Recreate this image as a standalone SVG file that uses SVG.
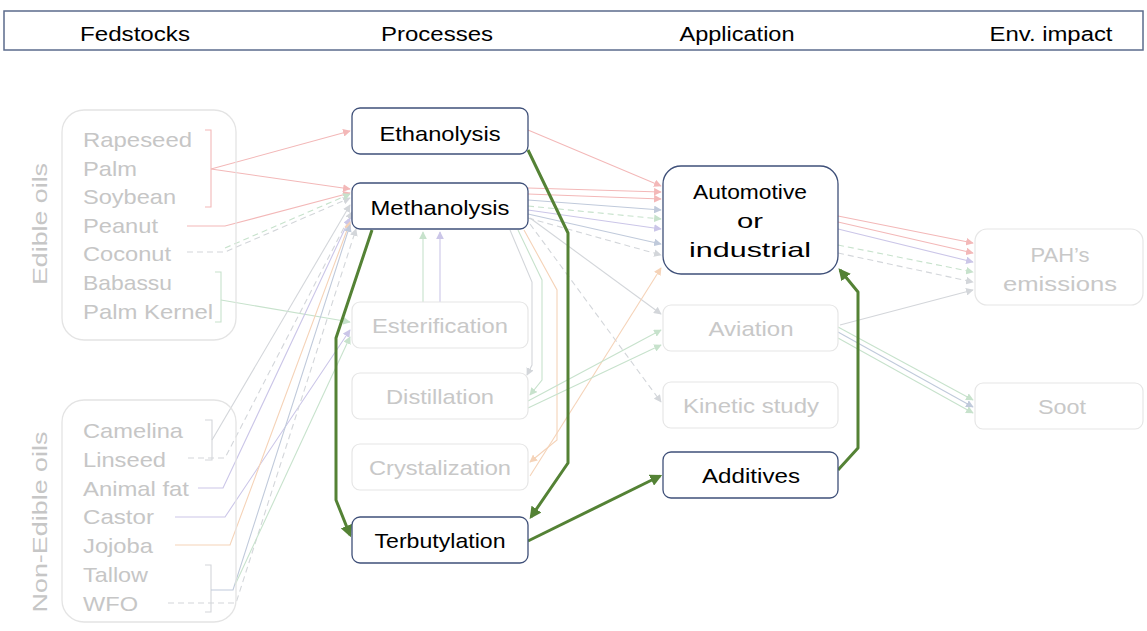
<svg xmlns="http://www.w3.org/2000/svg" width="1147" height="631" viewBox="0 0 1147 631">
<style>
text{font-family:"Liberation Sans",Arial,sans-serif}
.hd{font-size:20px;fill:#000;text-anchor:middle}
.on rect{fill:#fff;stroke:#3f5079;stroke-width:1.3}
.on text{font-size:21px;fill:#000;text-anchor:middle}
.off rect{fill:#fff;stroke:#e6e6e6;stroke-width:1.2}
.off text{font-size:21px;fill:#c8c8c8;text-anchor:middle}
.grp rect{fill:none;stroke:#e4e4e4;stroke-width:1.3}
.grp text{font-size:21px;fill:#c6c6c6}
.side{font-size:24px;fill:#c8c8c8;text-anchor:middle}
.c{fill:none;stroke-width:1.1}
.pk{stroke:#f3b8b8}
.gr{stroke:#c7e2cc}
.pu{stroke:#cbc6e8}
.gy{stroke:#d3d6da}
.or{stroke:#f5d3b8}
.bl{stroke:#c0cadb}
.d{stroke-dasharray:6 4}
.g{fill:none;stroke:#548235;stroke-width:3;stroke-linejoin:round}
</style>
<defs>
<marker id="mpk" viewBox="0 0 10 10" refX="9" refY="5" markerWidth="7" markerHeight="7" orient="auto"><path d="M0,0L10,5L0,10z" fill="#f3b8b8"/></marker>
<marker id="mgr" viewBox="0 0 10 10" refX="9" refY="5" markerWidth="7" markerHeight="7" orient="auto"><path d="M0,0L10,5L0,10z" fill="#c7e2cc"/></marker>
<marker id="mpu" viewBox="0 0 10 10" refX="9" refY="5" markerWidth="7" markerHeight="7" orient="auto"><path d="M0,0L10,5L0,10z" fill="#cbc6e8"/></marker>
<marker id="mgy" viewBox="0 0 10 10" refX="9" refY="5" markerWidth="7" markerHeight="7" orient="auto"><path d="M0,0L10,5L0,10z" fill="#d3d6da"/></marker>
<marker id="mor" viewBox="0 0 10 10" refX="9" refY="5" markerWidth="7" markerHeight="7" orient="auto"><path d="M0,0L10,5L0,10z" fill="#f5d3b8"/></marker>
<marker id="mbl" viewBox="0 0 10 10" refX="9" refY="5" markerWidth="7" markerHeight="7" orient="auto"><path d="M0,0L10,5L0,10z" fill="#c0cadb"/></marker>
<marker id="mg" viewBox="0 0 10 10" refX="8" refY="5" markerWidth="4" markerHeight="4" orient="auto"><path d="M0,0L10,5L0,10z" fill="#548235"/></marker>
</defs>

<g id="header">
<rect x="4" y="11" width="1139" height="39" fill="#fff" stroke="#5b6b8c" stroke-width="1.5"/>
<text class="hd" x="135" y="41" textLength="110" lengthAdjust="spacingAndGlyphs">Fedstocks</text>
<text class="hd" x="437" y="41" textLength="112" lengthAdjust="spacingAndGlyphs">Processes</text>
<text class="hd" x="737" y="41" textLength="115" lengthAdjust="spacingAndGlyphs">Application</text>
<text class="hd" x="1051" y="41" textLength="123" lengthAdjust="spacingAndGlyphs">Env. impact</text>
</g>

<g id="connectors">
<path class="c pk" d="M205,130H211V207H205"/>
<path class="c pk" d="M211,169L350,131" marker-end="url(#mpk)"/>
<path class="c pk" d="M211,169L350,189" marker-end="url(#mpk)"/>
<path class="c pk" d="M187,226H225L350,193" marker-end="url(#mpk)"/>
<path class="c gy d" d="M187,252H225L350,198" marker-end="url(#mgy)"/>
<path class="c gr d" d="M225,248L350,194" marker-end="url(#mgr)"/>
<path class="c gr" d="M215,272H221V322H215"/>
<path class="c gr" d="M221,300L350,322" marker-end="url(#mgr)"/>
<path class="c gy" d="M205,420H212V460H205"/>
<path class="c gy" d="M212,440L350,205" marker-end="url(#mgy)"/>
<path class="c gy d" d="M188,458H225L352,212" marker-end="url(#mgy)"/>
<path class="c pu" d="M198,488H223L350,218" marker-end="url(#mpu)"/>
<path class="c pu" d="M175,517H225L350,330" marker-end="url(#mpu)"/>
<path class="c or" d="M175,545H230L350,222" marker-end="url(#mor)"/>
<path class="c gy" d="M205,565H211V612H205"/>
<path class="c bl" d="M211,590H233L350,225" marker-end="url(#mbl)"/>
<path class="c gy d" d="M168,603H236L356,229" marker-end="url(#mgy)"/>
<path class="c gr" d="M235,585L350,337" marker-end="url(#mgr)"/>
<path class="c gr" d="M423,302V232" marker-end="url(#mgr)"/>
<path class="c pu" d="M440,302V232" marker-end="url(#mpu)"/>
<path class="c pk" d="M528,130L661,186" marker-end="url(#mpk)"/>
<path class="c pk" d="M528,188L661,192" marker-end="url(#mpk)"/>
<path class="c pk" d="M528,194L661,199" marker-end="url(#mpk)"/>
<path class="c bl" d="M528,200L661,210" marker-end="url(#mbl)"/>
<path class="c gr d" d="M528,206L661,219" marker-end="url(#mgr)"/>
<path class="c pu" d="M528,210L661,229" marker-end="url(#mpu)"/>
<path class="c bl" d="M528,214L661,244" marker-end="url(#mbl)"/>
<path class="c gy d" d="M528,218L661,255" marker-end="url(#mgy)"/>
<path class="c gy" d="M530,218L661,314" marker-end="url(#mgy)"/>
<path class="c gy d" d="M530,224L661,402" marker-end="url(#mgy)"/>
<path class="c gy" d="M510,230L532,282V365L527,375" marker-end="url(#mgy)"/>
<path class="c gr" d="M518,230L542,280V380L530,395" marker-end="url(#mgr)"/>
<path class="c or" d="M524,230L557,290V440L530,462" marker-end="url(#mor)"/>
<path class="c or" d="M530,476L661,268" marker-end="url(#mor)"/>
<path class="c gr" d="M528,401L661,330" marker-end="url(#mgr)"/>
<path class="c gr" d="M528,408L661,345" marker-end="url(#mgr)"/>
<path class="c pk" d="M838,216L973,243" marker-end="url(#mpk)"/>
<path class="c pk" d="M838,222L973,253" marker-end="url(#mpk)"/>
<path class="c pu" d="M838,229L973,262" marker-end="url(#mpu)"/>
<path class="c gr d" d="M838,245L973,272" marker-end="url(#mgr)"/>
<path class="c gy d" d="M838,253L973,282" marker-end="url(#mgy)"/>
<path class="c gy" d="M840,325L973,290" marker-end="url(#mgy)"/>
<path class="c gr" d="M838,327L973,400" marker-end="url(#mgr)"/>
<path class="c bl" d="M838,332L973,407" marker-end="url(#mbl)"/>
<path class="c gr" d="M838,338L973,413" marker-end="url(#mgr)"/>
<path class="g" d="M528,150L568,233V463L531,517" marker-end="url(#mg)"/>
<path class="g" d="M372,230L336,338V500L350,535" marker-end="url(#mg)"/>
<path class="g" d="M528,541L660,476" marker-end="url(#mg)"/>
<path class="g" d="M838,470L858,448V292L840,270" marker-end="url(#mg)"/>
</g>

<g id="edible" class="grp">
<rect x="62" y="110" width="174" height="230" rx="22"/>
<text x="83" y="147" textLength="109" lengthAdjust="spacingAndGlyphs">Rapeseed</text>
<text x="83" y="176" textLength="54" lengthAdjust="spacingAndGlyphs">Palm</text>
<text x="83" y="204" textLength="93" lengthAdjust="spacingAndGlyphs">Soybean</text>
<text x="83" y="233" textLength="75" lengthAdjust="spacingAndGlyphs">Peanut</text>
<text x="83" y="261" textLength="88" lengthAdjust="spacingAndGlyphs">Coconut</text>
<text x="83" y="290" textLength="89" lengthAdjust="spacingAndGlyphs">Babassu</text>
<text x="83" y="319" textLength="130" lengthAdjust="spacingAndGlyphs">Palm Kernel</text>
<text class="side" transform="translate(47,224) rotate(-90)" textLength="122" lengthAdjust="spacingAndGlyphs">Edible oils</text>
</g>

<g id="nonedible" class="grp">
<rect x="62" y="400" width="174" height="222" rx="22"/>
<text x="83" y="438" textLength="100" lengthAdjust="spacingAndGlyphs">Camelina</text>
<text x="83" y="467" textLength="83" lengthAdjust="spacingAndGlyphs">Linseed</text>
<text x="83" y="496" textLength="106" lengthAdjust="spacingAndGlyphs">Animal fat</text>
<text x="83" y="524" textLength="71" lengthAdjust="spacingAndGlyphs">Castor</text>
<text x="83" y="553" textLength="70" lengthAdjust="spacingAndGlyphs">Jojoba</text>
<text x="83" y="582" textLength="65" lengthAdjust="spacingAndGlyphs">Tallow</text>
<text x="83" y="611" textLength="55" lengthAdjust="spacingAndGlyphs">WFO</text>
<text class="side" transform="translate(47,522) rotate(-90)" textLength="181" lengthAdjust="spacingAndGlyphs">Non-Edible oils</text>
</g>

<g id="ethanolysis" class="on"><rect x="352" y="108" width="176" height="46" rx="8"/><text x="440" y="141" textLength="121" lengthAdjust="spacingAndGlyphs">Ethanolysis</text></g>
<g id="methanolysis" class="on"><rect x="352" y="183" width="176" height="46" rx="8"/><text x="440" y="215" textLength="139" lengthAdjust="spacingAndGlyphs">Methanolysis</text></g>
<g id="esterification" class="off"><rect x="352" y="302" width="176" height="46" rx="8"/><text x="440" y="333" textLength="136" lengthAdjust="spacingAndGlyphs">Esterification</text></g>
<g id="distillation" class="off"><rect x="352" y="373" width="176" height="46" rx="8"/><text x="440" y="404" textLength="108" lengthAdjust="spacingAndGlyphs">Distillation</text></g>
<g id="crystalization" class="off"><rect x="352" y="444" width="176" height="46" rx="8"/><text x="440" y="475" textLength="142" lengthAdjust="spacingAndGlyphs">Crystalization</text></g>
<g id="terbutylation" class="on"><rect x="352" y="517" width="176" height="46" rx="8"/><text x="440" y="548" textLength="131" lengthAdjust="spacingAndGlyphs">Terbutylation</text></g>

<g id="automotive" class="on"><rect x="663" y="166" width="175" height="108" rx="18"/><text x="750" y="199" textLength="114" lengthAdjust="spacingAndGlyphs">Automotive</text><text x="750" y="228" textLength="26" lengthAdjust="spacingAndGlyphs">or</text><text x="750" y="257" textLength="122" lengthAdjust="spacingAndGlyphs">industrial</text></g>
<g id="aviation" class="off"><rect x="663" y="305" width="175" height="46" rx="8"/><text x="751" y="336" textLength="85" lengthAdjust="spacingAndGlyphs">Aviation</text></g>
<g id="kinetic" class="off"><rect x="663" y="382" width="175" height="46" rx="8"/><text x="751" y="413" textLength="136" lengthAdjust="spacingAndGlyphs">Kinetic study</text></g>
<g id="additives" class="on"><rect x="663" y="452" width="175" height="46" rx="8"/><text x="751" y="483" textLength="98" lengthAdjust="spacingAndGlyphs">Additives</text></g>

<g id="pah" class="off"><rect x="975" y="229" width="168" height="76" rx="12"/><text x="1060" y="262" textLength="59" lengthAdjust="spacingAndGlyphs">PAH’s</text><text x="1060" y="291" textLength="114" lengthAdjust="spacingAndGlyphs">emissions</text></g>
<g id="soot" class="off"><rect x="975" y="383" width="168" height="46" rx="8"/><text x="1062" y="414" textLength="48" lengthAdjust="spacingAndGlyphs">Soot</text></g>
</svg>
